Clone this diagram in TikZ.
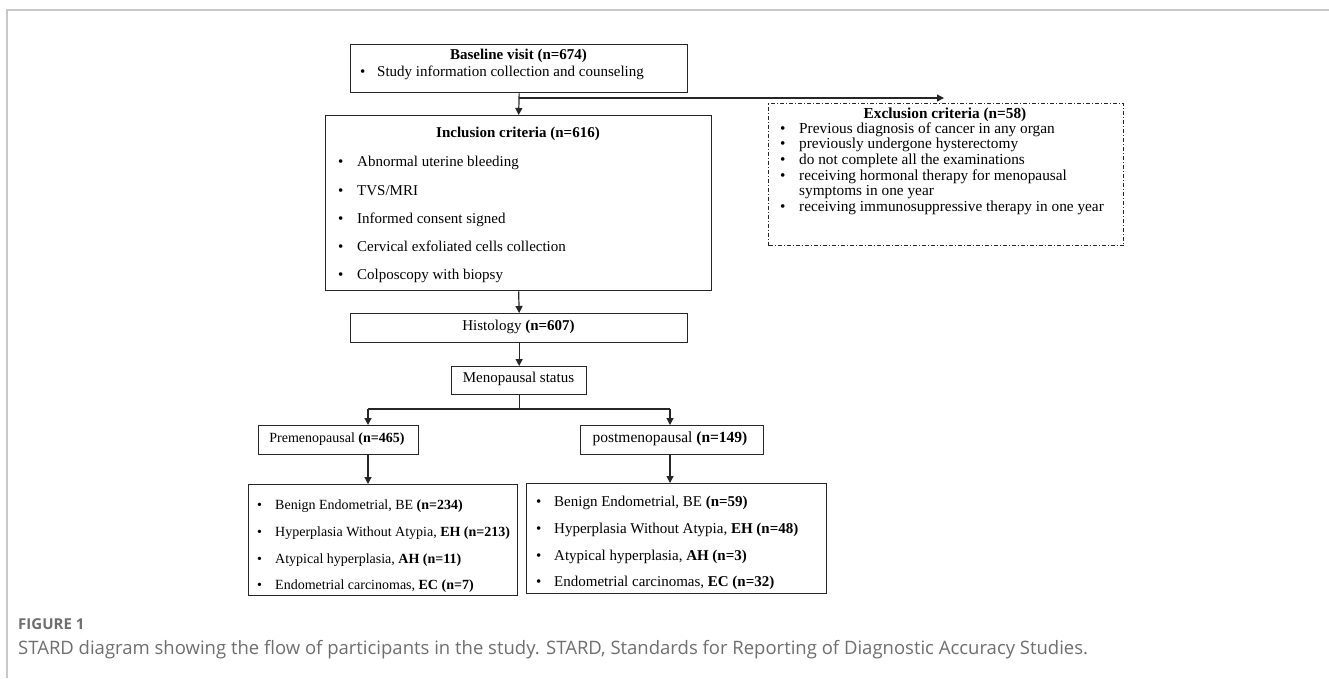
\documentclass[tikz,border=0pt]{standalone}
\usepackage{fontspec}
\setmainfont{Liberation Serif}
\newfontfamily\capfont{Open Sans}
\usetikzlibrary{arrows.meta}
\definecolor{ln}{HTML}{262626}
\definecolor{framegray}{HTML}{C8C8C8}
\definecolor{capgray}{HTML}{6E6E6E}
\begin{document}
\begin{tikzpicture}[x=1pt,y=-1pt,
  box/.style={draw=ln, line width=1.3pt, rectangle, inner sep=0pt, anchor=north west},
  exbox/.style={draw=ln, line width=1pt, dash pattern=on 4pt off 2pt on 1pt off 2pt, rectangle, inner sep=0pt, anchor=north west},
  txt/.style={inner sep=0pt, text height=1.5ex, text depth=.3ex, font=\fontsize{15}{18}\selectfont},
  ltxt/.style={inner sep=0pt, text height=1.5ex, text depth=.3ex, font=\fontsize{14}{17}\selectfont},
  stxt/.style={inner sep=0pt, text height=1.5ex, text depth=.3ex, font=\fontsize{15.3}{16}\selectfont},
  line/.style={draw=ln, line width=1.2pt},
  arr/.style={draw=ln, line width=1.2pt, -{Triangle[length=7pt,width=7pt]}}
]
\useasboundingbox (0,0) rectangle (1329,678);
% frame
\coordinate (f1) at (1329,10);
\coordinate (f2) at (7,10);
\coordinate (f3) at (7,678);
\draw[framegray, line width=1.5pt] (f1) -- (f2) -- (f3);

% baseline
\node[box, minimum width=337pt, minimum height=48pt] (base) at (350,44) {};
\node[txt, font=\fontsize{15}{18}\selectfont\bfseries] (baset) at (518.5,57) {Baseline visit (n=674)};
\node[txt, anchor=west] (baseb) at (360,74) {•};
\node[txt, anchor=west] (basei) at (377,74) {Study information collection and counseling};

% inclusion
\node[box, minimum width=386pt, minimum height=175pt] (incl) at (325,115) {};
\node[txt, font=\fontsize{15}{18}\selectfont\bfseries] (inclt) at (518,135) {Inclusion criteria (n=616)};
\foreach \y/\t [count=\i] in {164/{Abnormal uterine bleeding}, 193/{TVS/MRI}, 221/{Informed consent signed}, 249/{Cervical exfoliated cells collection}, 277/{Colposcopy with biopsy}}{
  \node[txt, anchor=west] (inclb\i) at (338,\y) {•};
  \node[txt, anchor=west] (incli\i) at (357,\y) {\t};
}

% exclusion
\node[exbox, minimum width=355pt, minimum height=142pt] (excl) at (768,103) {};
\node[stxt, font=\fontsize{15.3}{16}\selectfont\bfseries] (exclt) at (945,116) {Exclusion criteria (n=58)};
\foreach \y/\t [count=\i] in {131/{Previous diagnosis of cancer in any organ}, 146/{previously undergone hysterectomy}, 162/{do not complete all the examinations}, 178/{receiving hormonal therapy for menopausal}, 209/{receiving immunosuppressive therapy in one year}}{
  \node[stxt, anchor=west] (exclb\i) at (780,\y) {•};
  \node[stxt, anchor=west] (excli\i) at (799,\y) {\t};
}
\node[stxt, anchor=west] (excli6) at (799,193) {symptoms in one year};

% histology, menopausal
\node[box, minimum width=337pt, minimum height=29pt] (hist) at (350,313) {};
\node[txt] (histt) at (518.5,328) {Histology \textbf{(n=607)}};
\node[box, minimum width=135pt, minimum height=28pt] (meno) at (451,366) {};
\node[txt] (menot) at (518.5,380) {Menopausal status};

% pre / post
\node[box, minimum width=160pt, minimum height=29pt] (pre) at (258,425) {};
\node[ltxt] (pret) at (337,440) {Premenopausal \textbf{(n=465)}};
\node[box, minimum width=183pt, minimum height=29pt] (post) at (580,425) {};
\node[txt, font=\fontsize{15.5}{18}\selectfont] (postt) at (670,440) {postmenopausal \textbf{(n=149)}};

% lower boxes
\node[box, minimum width=269pt, minimum height=111pt] (lowl) at (248,484) {};
\foreach \y/\t [count=\i] in {507/{Benign Endometrial, BE \textbf{(n=234)}}, 534/{Hyperplasia Without Atypia, \textbf{EH} \textbf{(n=213)}}, 561/{Atypical hyperplasia, \textbf{AH} \textbf{(n=11)}}, 587/{Endometrial carcinomas, \textbf{EC} \textbf{(n=7)}}}{
  \node[ltxt, anchor=west] (lowlb\i) at (257,\y) {•};
  \node[ltxt, anchor=west] (lowli\i) at (275,\y) {\t};
}
\node[box, minimum width=300pt, minimum height=110pt] (lowr) at (526,483) {};
\foreach \y/\t [count=\i] in {504/{Benign Endometrial, BE \textbf{(n=59)}}, 531/{Hyperplasia Without Atypia, \textbf{EH} \textbf{(n=48)}}, 558/{Atypical hyperplasia, \textbf{AH} \textbf{(n=3)}}, 584/{Endometrial carcinomas, \textbf{EC} \textbf{(n=32)}}}{
  \node[txt, anchor=west] (lowrb\i) at (536,\y) {•};
  \node[txt, anchor=west] (lowri\i) at (554,\y) {\t};
}

% connectors
\draw[arr] (base.south) -- (incl.north);
\coordinate (eb) at (518.5,98);
\coordinate (ee) at (944,98);
\draw[arr] (eb) -- (ee);
\draw[arr] (incl.south) -- (hist.north);
\draw[arr] (hist.south) -- (meno.north);
\coordinate (sl) at (368,409);
\coordinate (sr) at (670,409);
\draw[line] (meno.south) -- (meno.south |- sl);
\draw[line] (sl) -- (sr);
\draw[arr] (sl) -- (sl |- pre.north);
\draw[arr] (sr) -- (sr |- post.north);
\draw[arr] (sl |- pre.south) -- (sl |- lowl.north);
\draw[arr] (sr |- post.south) -- (sr |- lowr.north);

% caption
\node[inner sep=0pt, anchor=west, text=capgray, font=\capfont\fontsize{15}{18}\selectfont\bfseries] (figlab) at (18,624) {FIGURE 1};
\node[inner sep=0pt, anchor=west, text=capgray, font=\capfont\fontsize{18.5}{22}\selectfont] (cap) at (18,650) {STARD diagram showing the flow of participants in the study. STARD, Standards for Reporting of Diagnostic Accuracy Studies.};
\end{tikzpicture}
\end{document}
